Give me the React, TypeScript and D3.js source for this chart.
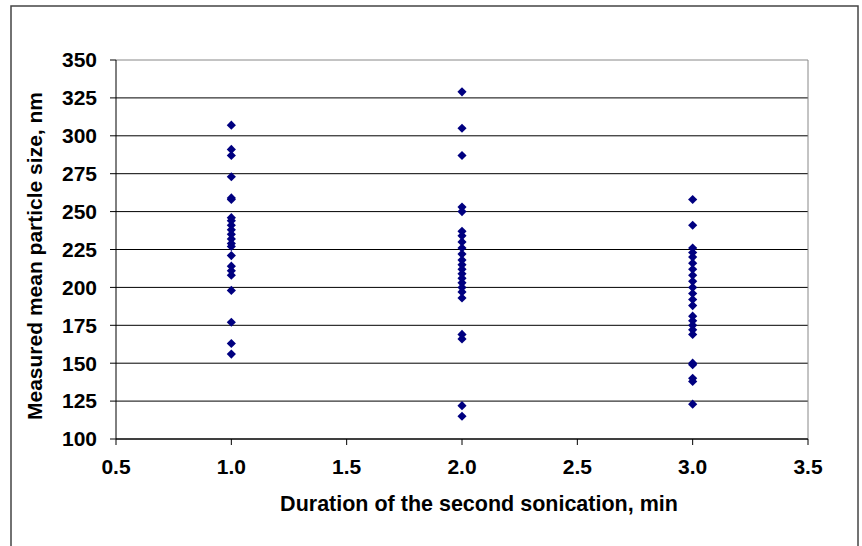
import React from 'react'
import * as d3 from 'd3'

const durations = [1.0, 2.0, 3.0]
const sizes1 = [307, 291, 287, 273, 259, 258, 246, 244, 241, 238, 235, 232, 229, 227, 221, 214, 211, 208, 198, 177, 163, 156]
const sizes2 = [329, 305, 287, 253, 250, 237, 234, 230, 226, 222, 218, 215, 212, 209, 206, 203, 200, 197, 193, 169, 166, 122, 115]
const sizes3 = [258, 241, 226, 223, 220, 216, 212, 208, 204, 200, 196, 192, 188, 181, 178, 175, 172, 169, 150, 149, 140, 138, 123]
const xTicks = [0.5, 1.0, 1.5, 2.0, 2.5, 3.0, 3.5]
const yTicks = [100, 125, 150, 175, 200, 225, 250, 275, 300, 325, 350]

const W = 862
const H = 546
const left = 116
const right = 808
const top = 60
const bottom = 439

const App = () => {
  const x = d3.scaleLinear().domain([0.5, 3.5]).range([left, right])
  const y = d3.scaleLinear().domain([100, 350]).range([bottom, top])
  // square turned 45deg, like the spreadsheet diamond marker
  const diamond = d3.symbol().type(d3.symbolSquare).size(42)()

  const points = [sizes1, sizes2, sizes3].flatMap((arr, i) =>
    arr.map(v => ({ x: durations[i], y: v }))
  )

  return (
    <svg
      width={W}
      height={H}
      style={{ position: 'absolute', left: 0, top: 0 }}
      fontFamily="'Liberation Sans', Arial, sans-serif"
    >
      <rect x={0} y={0} width={W} height={H} fill="white" />
      <rect x={11} y={6} width={847} height={560} fill="none" stroke="#444" strokeWidth={1.5} />

      {/* gridlines */}
      {yTicks.map(t => (
        <line
          key={t}
          x1={left}
          x2={right}
          y1={y(t)}
          y2={y(t)}
          stroke={t === 350 ? '#888' : '#000'}
          strokeWidth={1}
        />
      ))}
      <line x1={right} x2={right} y1={top} y2={bottom} stroke="#888" />

      {/* axes */}
      <line x1={left} x2={left} y1={top} y2={bottom} stroke="#000" />
      <line x1={left} x2={right} y1={bottom} y2={bottom} stroke="#000" />
      {yTicks.map(t => (
        <g key={t}>
          <line x1={left - 6} x2={left} y1={y(t)} y2={y(t)} stroke="#000" />
          <text
            x={left - 19}
            y={y(t)}
            dy="0.35em"
            textAnchor="end"
            fontSize={21}
            fontWeight="bold"
          >
            {t}
          </text>
        </g>
      ))}
      {xTicks.map(t => (
        <g key={t}>
          <line x1={x(t)} x2={x(t)} y1={bottom} y2={bottom + 6} stroke="#000" />
          <text
            x={x(t)}
            y={bottom + 28}
            dy="0.35em"
            textAnchor="middle"
            fontSize={21}
            fontWeight="bold"
          >
            {d3.format('.1f')(t)}
          </text>
        </g>
      ))}

      {/* points */}
      {points.map((p, i) => (
        <path
          key={i}
          d={diamond}
          transform={`translate(${x(p.x)},${y(p.y)}) rotate(45)`}
          fill="#000080"
        />
      ))}

      {/* titles */}
      <text
        x={479}
        y={503}
        dy="0.35em"
        textAnchor="middle"
        fontSize={21.5}
        fontWeight="bold"
      >
        Duration of the second sonication, min
      </text>
      <text
        transform="translate(35,256) rotate(-90)"
        dy="0.35em"
        textAnchor="middle"
        fontSize={21}
        fontWeight="bold"
      >
        Measured mean particle size, nm
      </text>
    </svg>
  )
}

export default App
